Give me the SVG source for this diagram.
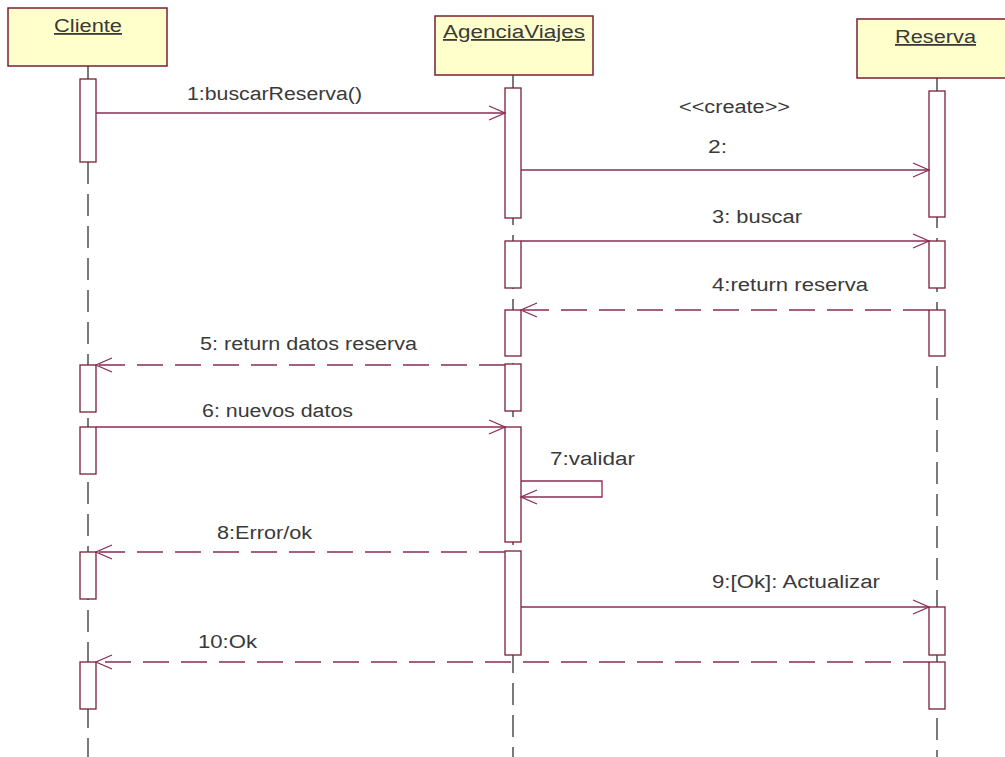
<svg xmlns="http://www.w3.org/2000/svg" width="1005" height="757" viewBox="0 0 1005 757">
<style>
.obj{fill:#ffffcc;stroke:#7a1f35;stroke-width:1.5}
.name{font-family:"Liberation Sans",Arial,sans-serif;font-size:18px;fill:#3a3a3a;text-decoration:underline}
.ll{stroke:#222;stroke-width:1.2;stroke-dasharray:22 10;fill:none}
.act{fill:#fff;stroke:#7a1f35;stroke-width:1.3}
.msg{stroke:#8a2b55;stroke-width:1.3;fill:none}
.ret{stroke:#8a2b55;stroke-width:1.3;fill:none;stroke-dasharray:26 12}
.lbl{font-family:"Liberation Sans",Arial,sans-serif;font-size:18px;fill:#3a3a3a}
</style>
<defs>
<marker id="ah" markerUnits="userSpaceOnUse" markerWidth="20" markerHeight="16" refX="17" refY="8" orient="auto">
<path d="M1,1 L17,8 L1,15" fill="none" stroke="#8a2b55" stroke-width="1.3"/>
</marker>
</defs>
<rect width="1005" height="757" fill="#fff"/>
<g id="lifelines">
<line class="ll" x1="88" y1="66" x2="88" y2="757"/>
<line class="ll" x1="513" y1="75" x2="513" y2="757"/>
<line class="ll" x1="937" y1="78" x2="937" y2="757"/>
</g>
<g id="Cliente">
<rect class="obj" x="8" y="8" width="159" height="58"/>
<text class="name" x="54" y="32" textLength="68" lengthAdjust="spacingAndGlyphs">Cliente</text>
<rect class="act" x="80" y="79" width="16" height="83"/>
<rect class="act" x="80" y="365" width="16" height="47"/>
<rect class="act" x="80" y="427" width="16" height="47"/>
<rect class="act" x="80" y="552" width="16" height="47"/>
<rect class="act" x="80" y="662" width="16" height="47"/>
</g>
<g id="AgenciaViajes">
<rect class="obj" x="435" y="16" width="158" height="59"/>
<text class="name" x="443" y="38" textLength="142" lengthAdjust="spacingAndGlyphs">AgenciaViajes</text>
<rect class="act" x="505" y="88" width="16" height="130"/>
<rect class="act" x="505" y="241" width="16" height="47"/>
<rect class="act" x="505" y="310" width="16" height="46"/>
<rect class="act" x="505" y="364" width="16" height="47"/>
<rect class="act" x="505" y="427" width="16" height="115"/>
<rect class="act" x="505" y="551" width="16" height="104"/>
</g>
<g id="Reserva">
<rect class="obj" x="857" y="19" width="150" height="59"/>
<text class="name" x="895" y="43" textLength="81" lengthAdjust="spacingAndGlyphs">Reserva</text>
<rect class="act" x="929" y="91" width="16" height="126"/>
<rect class="act" x="929" y="241" width="16" height="47"/>
<rect class="act" x="929" y="310" width="16" height="46"/>
<rect class="act" x="929" y="607" width="16" height="48"/>
<rect class="act" x="929" y="662" width="16" height="47"/>
</g>
<g id="connectors">
<line class="msg" x1="96" y1="113" x2="505" y2="113" marker-end="url(#ah)"/>
<line class="msg" x1="521" y1="170" x2="929" y2="170" marker-end="url(#ah)"/>
<line class="msg" x1="521" y1="241" x2="929" y2="241" marker-end="url(#ah)"/>
<line class="ret" x1="929" y1="310" x2="521" y2="310" marker-end="url(#ah)"/>
<line class="ret" x1="505" y1="365" x2="96" y2="365" marker-end="url(#ah)"/>
<line class="msg" x1="96" y1="427" x2="505" y2="427" marker-end="url(#ah)"/>
<path class="msg" d="M521,481 H602 V497 H521" marker-end="url(#ah)"/>
<line class="ret" x1="505" y1="552" x2="96" y2="552" marker-end="url(#ah)"/>
<line class="msg" x1="521" y1="607" x2="929" y2="607" marker-end="url(#ah)"/>
<line class="ret" x1="929" y1="662" x2="96" y2="662" marker-end="url(#ah)"/>
</g>
<g id="labels">
<text class="lbl" x="187" y="100" textLength="175" lengthAdjust="spacingAndGlyphs">1:buscarReserva()</text>
<text class="lbl" x="679" y="113" font-size="15" textLength="111" lengthAdjust="spacingAndGlyphs">&lt;&lt;create&gt;&gt;</text>
<text class="lbl" x="708" y="153" textLength="19" lengthAdjust="spacingAndGlyphs">2:</text>
<text class="lbl" x="712" y="223" textLength="90" lengthAdjust="spacingAndGlyphs">3: buscar</text>
<text class="lbl" x="712" y="291" textLength="156" lengthAdjust="spacingAndGlyphs">4:return reserva</text>
<text class="lbl" x="200" y="350" textLength="217" lengthAdjust="spacingAndGlyphs">5: return datos reserva</text>
<text class="lbl" x="202" y="417" textLength="151" lengthAdjust="spacingAndGlyphs">6: nuevos datos</text>
<text class="lbl" x="550" y="465" textLength="85" lengthAdjust="spacingAndGlyphs">7:validar</text>
<text class="lbl" x="217" y="539" textLength="95" lengthAdjust="spacingAndGlyphs">8:Error/ok</text>
<text class="lbl" x="712" y="588" textLength="168" lengthAdjust="spacingAndGlyphs">9:[Ok]: Actualizar</text>
<text class="lbl" x="198" y="648" textLength="59" lengthAdjust="spacingAndGlyphs">10:Ok</text>
</g>
</svg>
